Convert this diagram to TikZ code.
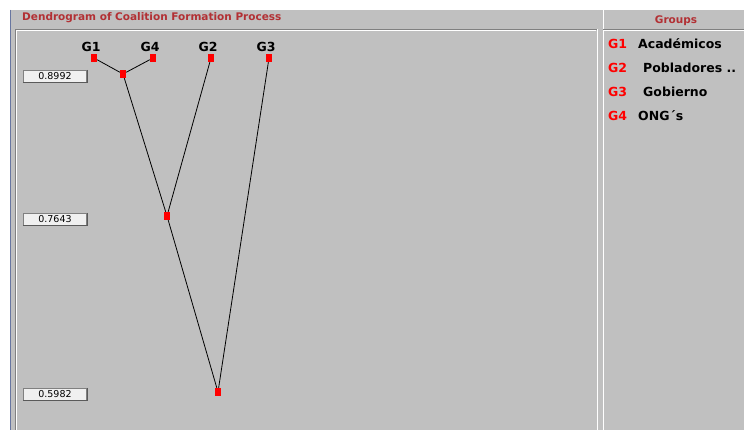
\documentclass[tikz,border=0pt]{standalone}
\usepackage{fontspec}
\setmainfont{DejaVu Sans}
\usetikzlibrary{positioning}
\definecolor{panel}{RGB}{192,192,192}
\definecolor{edge}{RGB}{128,128,128}
\definecolor{wine}{RGB}{178,48,52}
\definecolor{mark}{RGB}{255,0,0}
\definecolor{frame}{RGB}{104,118,160}
\definecolor{boxfill}{RGB}{240,240,240}
\tikzset{
  leaf/.style={font=\bfseries\fontsize{12.5}{12.5}\selectfont,inner sep=0pt},
  joint/.style={fill=mark,minimum width=6pt,minimum height=8pt,inner sep=0pt},
  level/.style={draw=edge,fill=boxfill,minimum width=63pt,minimum height=12pt,
    inner sep=0pt,font=\fontsize{9.5}{9.5}\selectfont},
  tag/.style={text=mark,font=\bfseries\fontsize{12.5}{12.5}\selectfont,anchor=west,inner sep=0pt},
  grp/.style={font=\bfseries\fontsize{12.5}{12.5}\selectfont,anchor=west,inner sep=0pt}
}
\begin{document}
\begin{tikzpicture}[x=1pt,y=-1pt]
        \useasboundingbox (0,0) rectangle (744,430);
        \fill[white] (0,0) rectangle (744,430);
        \fill[panel] (10,10) rectangle (744,430);
        \draw[frame] (10,10) -- (10,430);
        % plot area
        \draw[edge] (15,430) -- (15,29) -- (597,29);
        \draw[white] (16,430) -- (16,30) -- (596,30);
        \draw[white] (597,29) -- (597,430);
        \draw[white] (603,10) -- (603,430);
        \draw[edge] (603,29) -- (744,29);
        \draw[white] (603,30) -- (744,30);
        \node[text=wine,font=\bfseries\fontsize{10.5}{10.5}\selectfont,anchor=west,inner sep=0pt]
          (title) at (22,18) {Dendrogram of Coalition Formation Process};
        \node[text=wine,font=\bfseries\fontsize{10.5}{10.5}\selectfont,inner sep=0pt]
          (groups) at (676,21) {Groups};
        % leaves
        \node[leaf] (l1) at (91,47) {G1};
        \node[leaf] (l4) at (150,47) {G4};
        \node[leaf] (l2) at (208,47) {G2};
        \node[leaf] (l3) at (266,47) {G3};
        \node[joint] (g1) at (94,58) {};
        \node[joint] (g4) at (153,58) {};
        \node[joint] (g2) at (211,58) {};
        \node[joint] (g3) at (269,58) {};
        % merges
        \node[joint] (m14) at (123,74) {};
        \node[joint] (m142) at (167,216) {};
        \node[joint] (root) at (218,392) {};
        \draw[line width=0.8pt] (g1) -- (m14);
        \draw[line width=0.8pt] (g4) -- (m14);
        \draw[line width=0.8pt] (m14) -- (m142);
        \draw[line width=0.8pt] (g2) -- (m142);
        \draw[line width=0.8pt] (m142) -- (root);
        \draw[line width=0.8pt] (g3) -- (root);
        % levels
        \node[level] (v1) at (55,76) {0.8992};
        \node[level] (v2) at (55,219) {0.7643};
        \node[level] (v3) at (55,394) {0.5982};
        \foreach \v in {v1,v2,v3}
          \draw[edge!70!black] (\v.north east) -- (\v.south east) -- (\v.south west);
        % legend
        \node[tag] (t1) at (608,44) {G1};
        \node[grp] (n1) at (638,44) {Académicos};
        \node[tag] (t2) at (608,68) {G2};
        \node[grp] (n2) at (643,68) {Pobladores ..};
        \node[tag] (t3) at (608,92) {G3};
        \node[grp] (n3) at (643,92) {Gobierno};
        \node[tag] (t4) at (608,116) {G4};
        \node[grp] (n4) at (638,116) {ONG´s};
      \end{tikzpicture}
\end{document}
